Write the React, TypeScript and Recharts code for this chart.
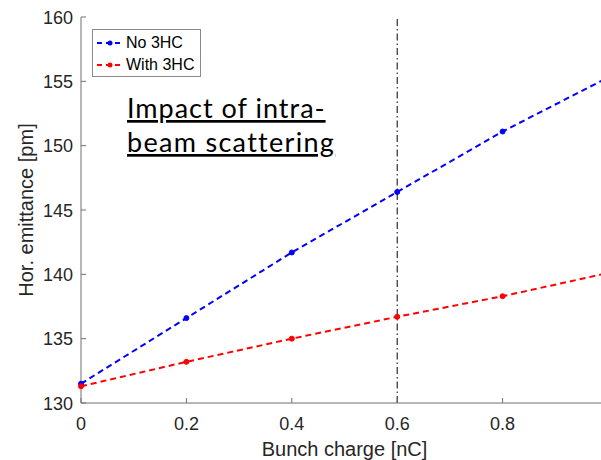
import { Legend, Line, LineChart, ReferenceLine, XAxis, YAxis } from "recharts";

const charge = [0, 0.2, 0.4, 0.6, 0.8, 1.0];
const no3hc = [131.5, 136.6, 141.7, 146.4, 151.1, 155.3];
const with3hc = [131.3, 133.2, 135.0, 136.7, 138.3, 140.1];
const xTicks = [0, 0.2, 0.4, 0.6, 0.8];
const yTicks = [130, 135, 140, 145, 150, 155, 160];

const data = charge.map((c, i) => ({ c, no3hc: no3hc[i], with3hc: with3hc[i] }));

const SERIES = [
  { key: "no3hc", name: "No 3HC", color: "#0000ff" },
  { key: "with3hc", name: "With 3HC", color: "#ff0000" },
];

const FONT = '"Liberation Sans", Arial, Helvetica, sans-serif';
const NOTE_FONT = "Lato, 'Open Sans', sans-serif";
const AXIS = "#707070";
const TEXT = "#262626";
const DASH = "6 4";

function BottomTick({ x, y, payload }: any) {
  return (
    <g>
      <line x1={x} x2={x} y1={y} y2={y - 5} stroke={AXIS} />
      <text x={x} y={y + 27} textAnchor="middle" fill={TEXT} fontSize={18} fontFamily={FONT}>
        {String(payload.value)}
      </text>
    </g>
  );
}

function TopTick({ x, y }: any) {
  return <line x1={x} x2={x} y1={y} y2={y + 5} stroke={AXIS} />;
}

function LeftTick({ x, y, payload }: any) {
  return (
    <g>
      <line x1={x} x2={x + 5} y1={y} y2={y} stroke={AXIS} />
      <text x={x - 8} y={y + 6.5} textAnchor="end" fill={TEXT} fontSize={18} fontFamily={FONT}>
        {payload.value}
      </text>
    </g>
  );
}

function LegendBox() {
  return (
    <div style={{ border: "1px solid #8a8a8a", background: "#fff", width: 107, paddingTop: 2,
                  fontFamily: FONT, fontSize: 16, color: "#000" }}>
      {SERIES.map((s) => (
        <div key={s.key} style={{ display: "flex", alignItems: "center", height: 22 }}>
          <svg width={33} height={22}>
            <line x1={4} x2={30} y1={11} y2={11} stroke={s.color} strokeWidth={2} strokeDasharray="5 4" />
            <circle cx={17} cy={11} r={2.5} fill={s.color} />
          </svg>
          <span>{s.name}</span>
        </div>
      ))}
    </div>
  );
}

export default function App() {
  return (
    <div style={{ position: "absolute", left: 0, top: 0, width: 601, height: 460,
                  overflow: "hidden", background: "#fff" }}>
      <LineChart width={640} height={460} data={data}
                 margin={{ top: 17, right: 32, left: 0, bottom: 0 }}>
        <XAxis dataKey="c" type="number" domain={[0, 1]} ticks={xTicks} interval={0}
               height={57} tickSize={0} tickMargin={0} tickLine={false}
               axisLine={{ stroke: AXIS }} tick={<BottomTick />}
               label={{
                 content: ({ viewBox }: any) => (
                   <text x={viewBox.x + viewBox.width / 2} y={viewBox.y + 53} textAnchor="middle"
                         fill={TEXT} fontSize={20} fontFamily={FONT}>Bunch charge [nC]</text>
                 ),
               }} />
        <XAxis xAxisId="top" orientation="top" dataKey="c" type="number" domain={[0, 1]}
               ticks={xTicks} interval={0} height={0} tickSize={0} tickMargin={0}
               tickLine={false} axisLine={{ stroke: AXIS }} tick={<TopTick />} />
        <YAxis type="number" domain={[130, 160]} ticks={yTicks} interval={0} width={81}
               tickSize={0} tickMargin={0} tickLine={false} axisLine={{ stroke: AXIS }}
               tick={<LeftTick />}
               label={{
                 content: ({ viewBox }: any) => {
                   const cy = viewBox.y + viewBox.height / 2;
                   return (
                     <text x={33} y={cy} transform={`rotate(-90 33 ${cy})`} textAnchor="middle"
                           fill={TEXT} fontSize={20} fontFamily={FONT}>Hor. emittance [pm]</text>
                   );
                 },
               }} />
        <ReferenceLine x={0.6} stroke="#000" strokeWidth={1} strokeDasharray="7 3 1.5 3" />
        {SERIES.map((s) => (
          <Line key={s.key} dataKey={s.key} name={s.name} type="linear" stroke={s.color}
                strokeWidth={2} strokeDasharray={DASH}
                dot={{ r: 2.5, fill: s.color, stroke: s.color, strokeWidth: 1, strokeDasharray: "" }}
                activeDot={false} isAnimationActive={false} />
        ))}
        <Legend layout="vertical" align="center" verticalAlign="middle" content={<LegendBox />}
                wrapperStyle={{ left: 92, top: 29, width: 109 }} />
        <text x={127} y={118} fontSize={27} fontFamily={NOTE_FONT} fill="#000" letterSpacing={1}
              style={{ textDecoration: "underline" }}>Impact of intra-</text>
        <text x={127} y={152} fontSize={27} fontFamily={NOTE_FONT} fill="#000" letterSpacing={1.3}
              style={{ textDecoration: "underline" }}>beam scattering</text>
      </LineChart>
    </div>
  );
}
